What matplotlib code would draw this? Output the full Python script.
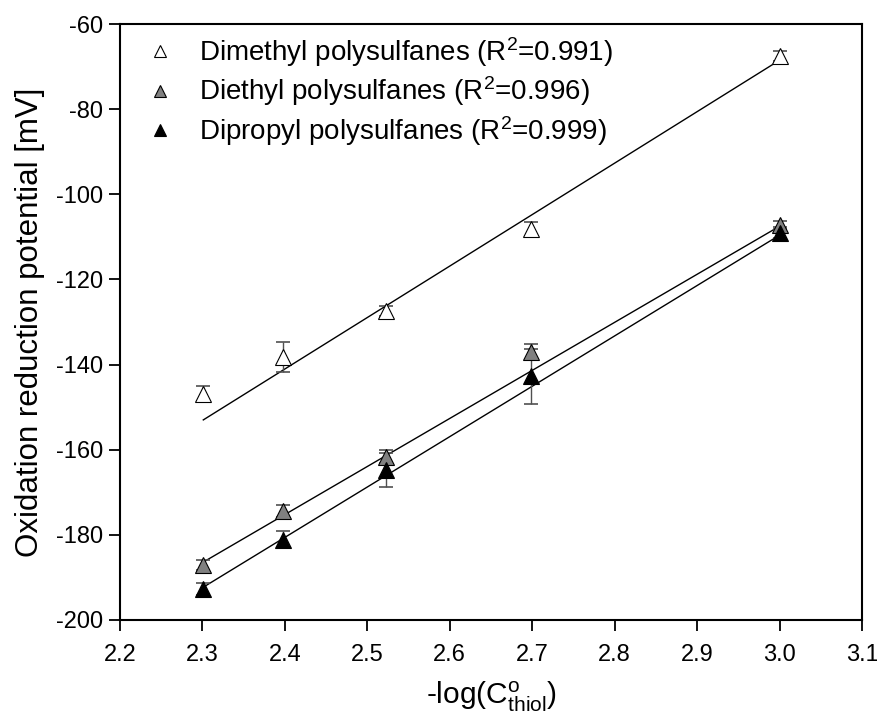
import matplotlib
matplotlib.use("Agg")
import matplotlib.pyplot as plt
from matplotlib.lines import Line2D
import numpy as np

plt.rcParams['font.family'] = ['Liberation Sans', 'DejaVu Sans']
plt.rcParams['mathtext.fontset'] = 'custom'
plt.rcParams['mathtext.rm'] = 'Liberation Sans'
plt.rcParams['mathtext.it'] = 'Liberation Sans:italic'

# data
x_vals = [2.301, 2.398, 2.523, 2.699, 3.0]
dimethyl = [-146.8, -138.2, -127.4, -108.2, -67.5]
dimethyl_err = [1.8, 3.5, 1.2, 1.8, 1.2]
diethyl = [-187.0, -174.4, -161.6, -137.0, -107.2]
diethyl_err = [1.2, 1.5, 1.5, 1.8, 1.0]
dipropyl = [-192.7, -181.1, -164.8, -142.8, -109.0]
dipropyl_err = [1.5, 2.0, 4.0, 6.5, 1.2]

# fitted lines (value at x=2.301 and at x=3.0, as drawn)
fit_x = [2.301, 3.0]
dimethyl_fit = [-153.0, -68.5]
diethyl_fit = [-186.4, -107.5]
dipropyl_fit = [-192.3, -109.6]

labels = [r'Dimethyl polysulfanes (R$^{2}$=0.991)',
          r'Diethyl polysulfanes (R$^{2}$=0.996)',
          r'Dipropyl polysulfanes (R$^{2}$=0.999)']
xticks = [2.2, 2.3, 2.4, 2.5, 2.6, 2.7, 2.8, 2.9, 3.0, 3.1]
yticks = [-200, -180, -160, -140, -120, -100, -80, -60]

fig = plt.figure(figsize=(8.78, 7.21), dpi=100)
ax = fig.add_axes([0.1367, 0.1401, 0.8451, 0.8266])

series = [
    (dimethyl, dimethyl_err, dimethyl_fit, 'white'),
    (diethyl, diethyl_err, diethyl_fit, '#808080'),
    (dipropyl, dipropyl_err, dipropyl_fit, 'black'),
]
for vals, err, fit, fc in series:
    ax.plot(fit_x, fit, color='black', lw=1.0, zorder=2)
    ax.errorbar(x_vals, vals, yerr=err, fmt='none', ecolor='#505050',
                elinewidth=1.0, capsize=5, capthick=1.2, zorder=3)
    ax.plot(x_vals, vals, linestyle='none', marker='^', ms=11,
            mfc=fc, mec='black', mew=0.8, zorder=4)

handles = [Line2D([], [], linestyle='none', marker='^', ms=8, mfc=fc,
                  mec='black', mew=0.8) for _, _, _, fc in series]
ax.legend(handles, labels, loc='upper left', bbox_to_anchor=(0.0, 1.014),
          frameon=False, fontsize=20, handletextpad=0.65, labelspacing=0.2,
          handlelength=1.5, borderaxespad=0.3)

ax.set_xlim(2.2, 3.1)
ax.set_ylim(-200, -60)
ax.set_xticks(xticks)
ax.set_yticks(yticks)
ax.set_xticklabels([f'{t:.1f}' for t in xticks])
ax.set_yticklabels([str(t) for t in yticks])
ax.tick_params(direction='out', length=8, width=1.3, labelsize=17,
               top=False, right=False, pad=4)
ax.tick_params(axis='x', pad=9)
for s in ax.spines.values():
    s.set_linewidth(1.5)

ax.set_ylabel('Oxidation reduction potential [mV]', fontsize=22.5, labelpad=8)
ax.set_xlabel(r'-log(C$^{\mathrm{o}}_{\mathrm{thiol}}$)', fontsize=21.5, labelpad=10)

fig.savefig('out.png', dpi=100)
